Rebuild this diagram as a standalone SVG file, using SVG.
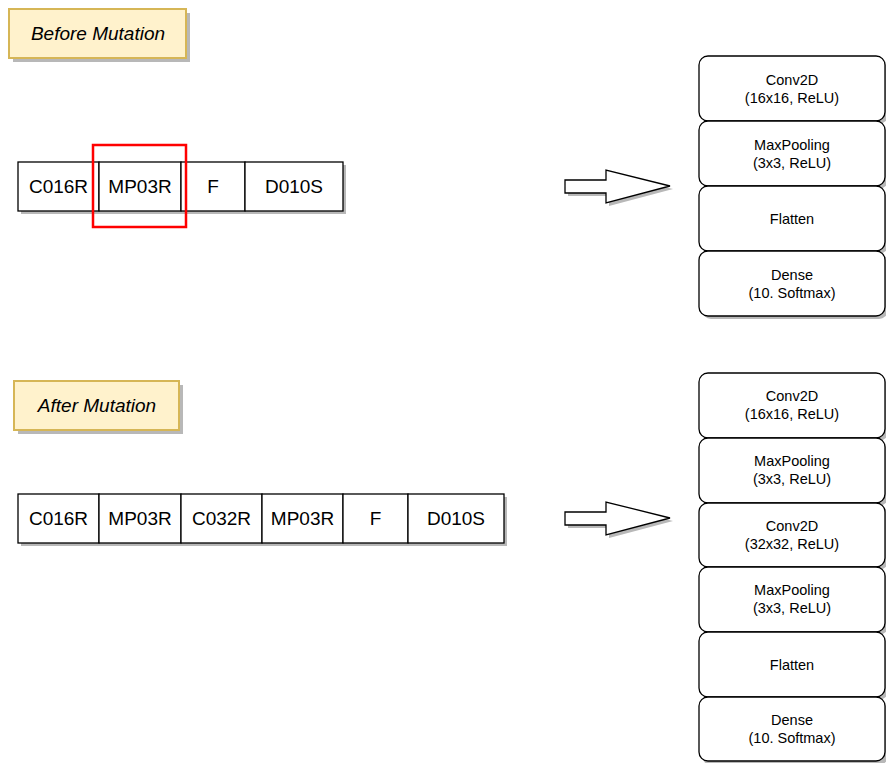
<svg xmlns="http://www.w3.org/2000/svg" width="886" height="763" viewBox="0 0 886 763">
<style>
.lbl{fill:#fff2cc;stroke:#d6b656;stroke-width:2}
.sh{fill:#b8b8b8;stroke:none}
.cell{fill:#fff;stroke:#000;stroke-width:1.3}
.layer{fill:#fff;stroke:#000;stroke-width:1.3}
.t{font-family:"Liberation Sans",Arial,sans-serif;fill:#000;text-anchor:middle}
.lt{font-size:19px;font-style:italic}
.ct{font-size:19px}
.st{font-size:14.5px}
.arr{fill:#fff;stroke:#000;stroke-width:1.3}
</style>

<g id="label-before">
<rect class="sh" x="13" y="13" width="177" height="49"/>
<rect class="lbl" x="9" y="9" width="177" height="49"/>
<text class="t lt" x="98" y="40">Before Mutation</text>
</g>

<g id="seq-before">
<rect class="sh" x="21" y="165" width="325" height="49"/>
<g id="b-c016r"><rect class="cell" x="18" y="162" width="81" height="49"/><text class="t ct" x="58.5" y="193">C016R</text></g>
<g id="b-mp03r"><rect class="cell" x="99" y="162" width="82" height="49"/><text class="t ct" x="140" y="193">MP03R</text></g>
<g id="b-f"><rect class="cell" x="181" y="162" width="64" height="49"/><text class="t ct" x="213" y="193">F</text></g>
<g id="b-d010s"><rect class="cell" x="245" y="162" width="98" height="49"/><text class="t ct" x="294" y="193">D010S</text></g>
<rect id="highlight" x="93" y="145" width="93" height="82" fill="none" stroke="#ff0000" stroke-width="2.5"/>
</g>

<g id="stack-before">
<g id="sb1"><rect class="sh" x="702" y="59" width="186" height="65" rx="9"/><rect class="layer" x="699" y="56" width="186" height="65" rx="9"/><text class="t st" x="792" y="85">Conv2D</text><text class="t st" x="792" y="103">(16x16, ReLU)</text></g>
<g id="sb2"><rect class="sh" x="702" y="124" width="186" height="65" rx="9"/><rect class="layer" x="699" y="121" width="186" height="65" rx="9"/><text class="t st" x="792" y="150">MaxPooling</text><text class="t st" x="792" y="168">(3x3, ReLU)</text></g>
<g id="sb3"><rect class="sh" x="702" y="189" width="186" height="65" rx="9"/><rect class="layer" x="699" y="186" width="186" height="65" rx="9"/><text class="t st" x="792" y="223.5">Flatten</text></g>
<g id="sb4"><rect class="sh" x="702" y="254" width="186" height="65" rx="9"/><rect class="layer" x="699" y="251" width="186" height="65" rx="9"/><text class="t st" x="792" y="280">Dense</text><text class="t st" x="792" y="298">(10. Softmax)</text></g>
</g>

<g id="label-after">
<rect class="sh" x="18" y="385" width="165" height="49"/>
<rect class="lbl" x="14" y="381" width="165" height="49"/>
<text class="t lt" x="97" y="412">After Mutation</text>
</g>

<g id="seq-after">
<rect class="sh" x="21" y="497" width="486" height="49"/>
<g id="a-c016r"><rect class="cell" x="18" y="494" width="81" height="49"/><text class="t ct" x="58.5" y="525">C016R</text></g>
<g id="a-mp03r"><rect class="cell" x="99" y="494" width="82" height="49"/><text class="t ct" x="140" y="525">MP03R</text></g>
<g id="a-c032r"><rect class="cell" x="181" y="494" width="81" height="49"/><text class="t ct" x="221.5" y="525">C032R</text></g>
<g id="a-mp03r2"><rect class="cell" x="262" y="494" width="81" height="49"/><text class="t ct" x="302.5" y="525">MP03R</text></g>
<g id="a-f"><rect class="cell" x="343" y="494" width="65" height="49"/><text class="t ct" x="375.5" y="525">F</text></g>
<g id="a-d010s"><rect class="cell" x="408" y="494" width="96" height="49"/><text class="t ct" x="456" y="525">D010S</text></g>
</g>

<g id="stack-after">
<g id="sa1"><rect class="sh" x="702" y="376" width="186" height="65" rx="9"/><rect class="layer" x="699" y="373" width="186" height="65" rx="9"/><text class="t st" x="792" y="401">Conv2D</text><text class="t st" x="792" y="419">(16x16, ReLU)</text></g>
<g id="sa2"><rect class="sh" x="702" y="441" width="186" height="65" rx="9"/><rect class="layer" x="699" y="438" width="186" height="65" rx="9"/><text class="t st" x="792" y="466">MaxPooling</text><text class="t st" x="792" y="484">(3x3, ReLU)</text></g>
<g id="sa3"><rect class="sh" x="702" y="506" width="186" height="64" rx="9"/><rect class="layer" x="699" y="503" width="186" height="64" rx="9"/><text class="t st" x="792" y="531">Conv2D</text><text class="t st" x="792" y="549">(32x32, ReLU)</text></g>
<g id="sa4"><rect class="sh" x="702" y="570" width="186" height="65" rx="9"/><rect class="layer" x="699" y="567" width="186" height="65" rx="9"/><text class="t st" x="792" y="595">MaxPooling</text><text class="t st" x="792" y="613">(3x3, ReLU)</text></g>
<g id="sa5"><rect class="sh" x="702" y="635" width="186" height="65" rx="9"/><rect class="layer" x="699" y="632" width="186" height="65" rx="9"/><text class="t st" x="792" y="669.5">Flatten</text></g>
<g id="sa6"><rect class="sh" x="702" y="700" width="186" height="65" rx="9"/><rect class="layer" x="699" y="697" width="186" height="64" rx="9"/><text class="t st" x="792" y="725">Dense</text><text class="t st" x="792" y="743">(10. Softmax)</text></g>
</g>

<g id="connectors">
<polygon class="sh" points="568,183 609,183 609,173 673,189 609,206 609,196 568,196"/>
<polygon class="arr" points="565,180 606,180 606,170 670,186 606,203 606,193 565,193"/>
<polygon class="sh" points="568,515 609,515 609,505 673,521 609,538 609,528 568,528"/>
<polygon class="arr" points="565,512 606,512 606,502 670,518 606,535 606,525 565,525"/>
</g>
</svg>
